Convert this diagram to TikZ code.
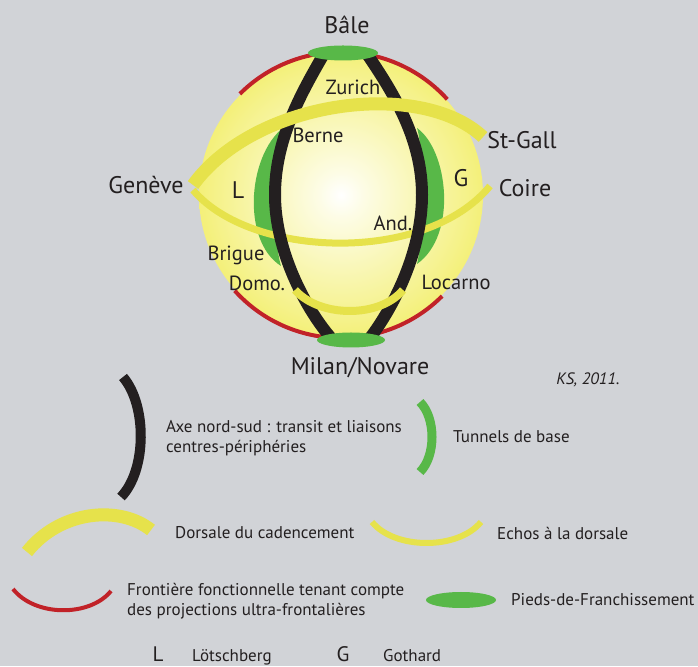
\documentclass[tikz,border=0pt]{standalone}
\usepackage{fontspec}
\setmainfont{PT Sans}
\definecolor{bggray}{RGB}{209,211,215}
\definecolor{globeyel}{RGB}{237,231,42}
\definecolor{dorsyel}{RGB}{230,226,75}
\definecolor{tungreen}{RGB}{88,184,72}
\definecolor{frontred}{RGB}{193,34,40}
\definecolor{axeblack}{RGB}{35,31,32}
\pgfdeclareradialshading{globe}{\pgfpoint{0bp}{0bp}}{color(0bp)=(white); color(4bp)=(globeyel!12!white); color(22bp)=(globeyel!55!white); color(36bp)=(globeyel!92!white); color(50bp)=(globeyel)}

\begin{document}
\begin{tikzpicture}[x=1pt, y=1pt,
  city/.style={font=\fontsize{24}{26}\selectfont, text=axeblack},
  town/.style={font=\fontsize{20.5}{22}\selectfont, text=axeblack},
  letter/.style={font=\fontsize{24}{26}\selectfont, text=axeblack},
  legtxt/.style={font=\fontsize{17}{20}\selectfont, text=axeblack, anchor=west, align=left, inner sep=0pt}]
\fill[bggray] (0,0) rectangle (698,666);

% globe
\coordinate (ctr) at (341,471);
\shade[shading=globe] (ctr) circle[radius=142pt];
\draw[frontred, line width=4] (ctr) ++(42:143pt) arc[start angle=42, end angle=135, radius=143pt];
\draw[frontred, line width=4] (ctr) ++(222:143pt) arc[start angle=222, end angle=315, radius=143pt];

% tunnels de base
\fill[tungreen] (287,541) .. controls (248,516) and (240,426) .. (281,400)
  .. controls (272,431) and (272,516) .. cycle;
\fill[tungreen] (417,538) .. controls (448,516) and (458,431) .. (417,402)
  .. controls (424,431) and (424,516) .. cycle;

% echo Geneve - Coire
\draw[dorsyel, line width=7] (193,476) .. controls (250,408) and (425,401) .. (490,480);

% axe nord-sud
\draw[axeblack, line width=12] (325,614) .. controls (300,571) and (275,526) .. (275,471)
  .. controls (275,416) and (305,358) .. (331,328);
\draw[axeblack, line width=12] (367,612) .. controls (395,571) and (422,526) .. (422,471)
  .. controls (422,416) and (395,361) .. (370,328);

% echo Domo. - Locarno
\draw[dorsyel, line width=8] (295,376) .. controls (320,348) and (380,348) .. (403,376);

% dorsale
\draw[dorsyel, line width=13] (193,481) .. controls (255,566) and (420,588) .. (483,529);

% pieds-de-franchissement
\fill[tungreen] (343,613) ellipse[x radius=35pt, y radius=7.5pt];
\fill[tungreen] (351,326) ellipse[x radius=34pt, y radius=7.5pt];

\node[city] (bale) at (347,641) {Bâle};
\node[city] (milan) at (360,298) {Milan/Novare};
\node[city] (geneve) at (146,481) {Genève};
\node[city] (stgall) at (522,526) {St-Gall};
\node[city] (coire) at (525,478) {Coire};
\node[town] (zurich) at (353,579) {Zurich};
\node[town] (berne) at (318,531) {Berne};
\node[town] (andermatt) at (393,443) {And.};
\node[town] (brigue) at (236,411) {Brigue};
\node[town] (domo) at (257,383) {Domo.};
\node[town] (locarno) at (456,384) {Locarno};
\node[letter] (lot) at (238,476) {L};
\node[letter] (got) at (461,488) {G};
\node[font=\fontsize{16.5}{18}\selectfont\itshape, text=axeblack] (ks) at (588,286) {KS, 2011.};

% legende
\draw[axeblack, line width=10] (123,289) .. controls (147,261) and (147,196) .. (121,169);
\node[legtxt] (axetxt) at (166,228) {Axe nord-sud : transit et liaisons\\centres-périphéries};
\draw[tungreen, line width=9] (420,264) .. controls (436,248) and (436,210) .. (420,194);
\node[legtxt] (tuntxt) at (453,229) {Tunnels de base};
\draw[dorsyel, line width=13] (27,114) .. controls (60,156) and (120,161) .. (151,136);
\node[legtxt] (dorstxt) at (175,133) {Dorsale du cadencement};
\draw[dorsyel, line width=6] (372,144) .. controls (395,116) and (458,116) .. (481,144);
\node[legtxt] (echotxt) at (497,133) {Echos à la dorsale};
\draw[frontred, line width=4] (13,77) .. controls (35,49) and (90,49) .. (111,75);
\node[legtxt] (fronttxt) at (127,65) {Frontière fonctionnelle tenant compte\\des projections ultra-frontalières};
\fill[tungreen] (461,66) ellipse[x radius=35pt, y radius=8pt];
\node[legtxt] (piedtxt) at (511,66) {Pieds-de-Franchissement};
\node[legtxt, anchor=base, font=\fontsize{21}{22}\selectfont] (lkey) at (158,5) {L};
\node[legtxt, anchor=base west] (ltxt) at (192,5) {Lötschberg};
\node[legtxt, anchor=base, font=\fontsize{21}{22}\selectfont] (gkey) at (343,5) {G};
\node[legtxt, anchor=base west] (gtxt) at (383,5) {Gothard};
\end{tikzpicture}
\end{document}
